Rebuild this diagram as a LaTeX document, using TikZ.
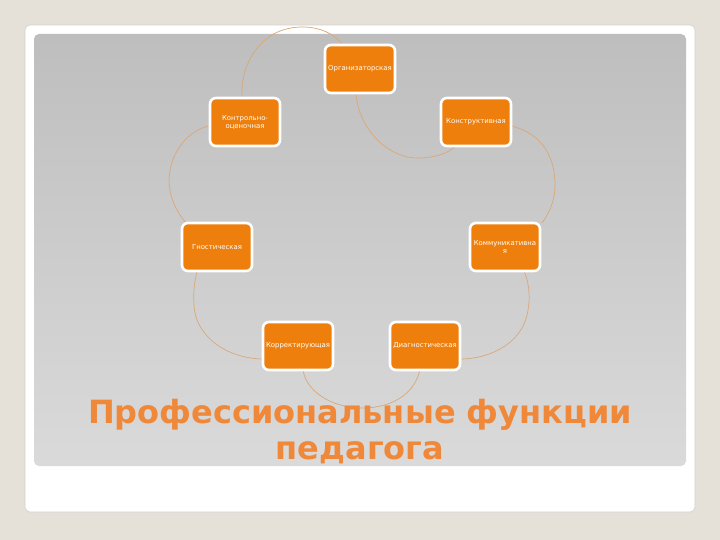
\documentclass[tikz,border=0pt]{standalone}
\usepackage{fontspec}
\setmainfont{DejaVu Sans}
\newfontfamily\titlefont{DejaVu Sans}
\usetikzlibrary{backgrounds}
\definecolor{pagebg}{HTML}{E5E0D8}
\definecolor{panel}{HTML}{FFFFFF}
\definecolor{greytop}{HTML}{BEBEBE}
\definecolor{greybot}{HTML}{DADADA}
\definecolor{boxorange}{HTML}{EE7F0C}
\definecolor{arccol}{HTML}{D9A878}
\definecolor{titleorange}{HTML}{F0883A}
\begin{document}
\begin{tikzpicture}[x=1pt,y=-1pt,
  fbox/.style={draw=white, line width=2.6pt, fill=boxorange, rounded corners=6pt,
    minimum width=70pt, minimum height=48pt, inner sep=1pt, align=center,
    text=white, font=\fontsize{6.9}{8}\selectfont},
  arc/.style={draw=arccol, line width=0.7pt},
  ttl/.style={font=\titlefont\bfseries\fontsize{32}{38}\selectfont, text=titleorange}]
\useasboundingbox (0,0) rectangle (720,540);

\node[fbox] (org) at (360,69) {Организаторская};
\node[fbox] (kon) at (245,122) {Контрольно-\\оценочная};
\node[fbox] (str) at (476,122) {Конструктивная};
\node[fbox] (gno) at (217,247) {Гностическая};
\node[fbox] (kom) at (505,247) {Коммуникативна\\я};
\node[fbox] (kor) at (298,346) {Корректирующая};
\node[fbox] (dia) at (425,346) {Диагностическая};

\node[ttl] (t1) at (360,415) {Профессиональные функции};
\node[ttl] (t2) at (360,453) {педагога};

\begin{scope}[on background layer]
\fill[pagebg] (0,0) rectangle (720,540);
\fill[panel, rounded corners=5pt] (25,25) rectangle (695,512);
\draw[black!18, rounded corners=5pt, line width=0.6pt] (25,25) rectangle (695,512);
\shade[top color=greytop, bottom color=greybot, rounded corners=5pt] (34,34) rectangle (686,466);

\coordinate (a1s) at (342,44);  \coordinate (a1e) at (242,99);
\coordinate (a2s) at (356,92);  \coordinate (a2e) at (455,147);
\coordinate (a3s) at (512,126); \coordinate (a3e) at (542,223);
\coordinate (a4s) at (524,271); \coordinate (a4e) at (462,359);
\coordinate (a5s) at (420,369); \coordinate (a5e) at (303,369);
\coordinate (a6s) at (262,359); \coordinate (a6e) at (197,271);
\coordinate (a7s) at (186,223); \coordinate (a7e) at (209,126);

\draw[arc] (a1s) .. controls (325,22) and (285,22) .. (265,40) .. controls (245,58) and (241,80) .. (a1e);
\draw[arc] (a2s) .. controls (357,125) and (385,158) .. (418,158) .. controls (435,158) and (448,153) .. (a2e);
\draw[arc] (a3s) .. controls (545,135) and (555,160) .. (555,185) .. controls (555,200) and (550,212) .. (a3e);
\draw[arc] (a4s) .. controls (530,285) and (530,300) .. (528,310) .. controls (524,340) and (495,358) .. (a4e);
\draw[arc] (a5s) .. controls (415,395) and (390,408) .. (363,408) .. controls (330,408) and (305,390) .. (a5e);
\draw[arc] (a6s) .. controls (225,358) and (195,335) .. (194,305) .. controls (193,290) and (195,280) .. (a6e);
\draw[arc] (a7s) .. controls (175,210) and (169,195) .. (169,180) .. controls (170,150) and (190,130) .. (a7e);
\end{scope}
\end{tikzpicture}
\end{document}
